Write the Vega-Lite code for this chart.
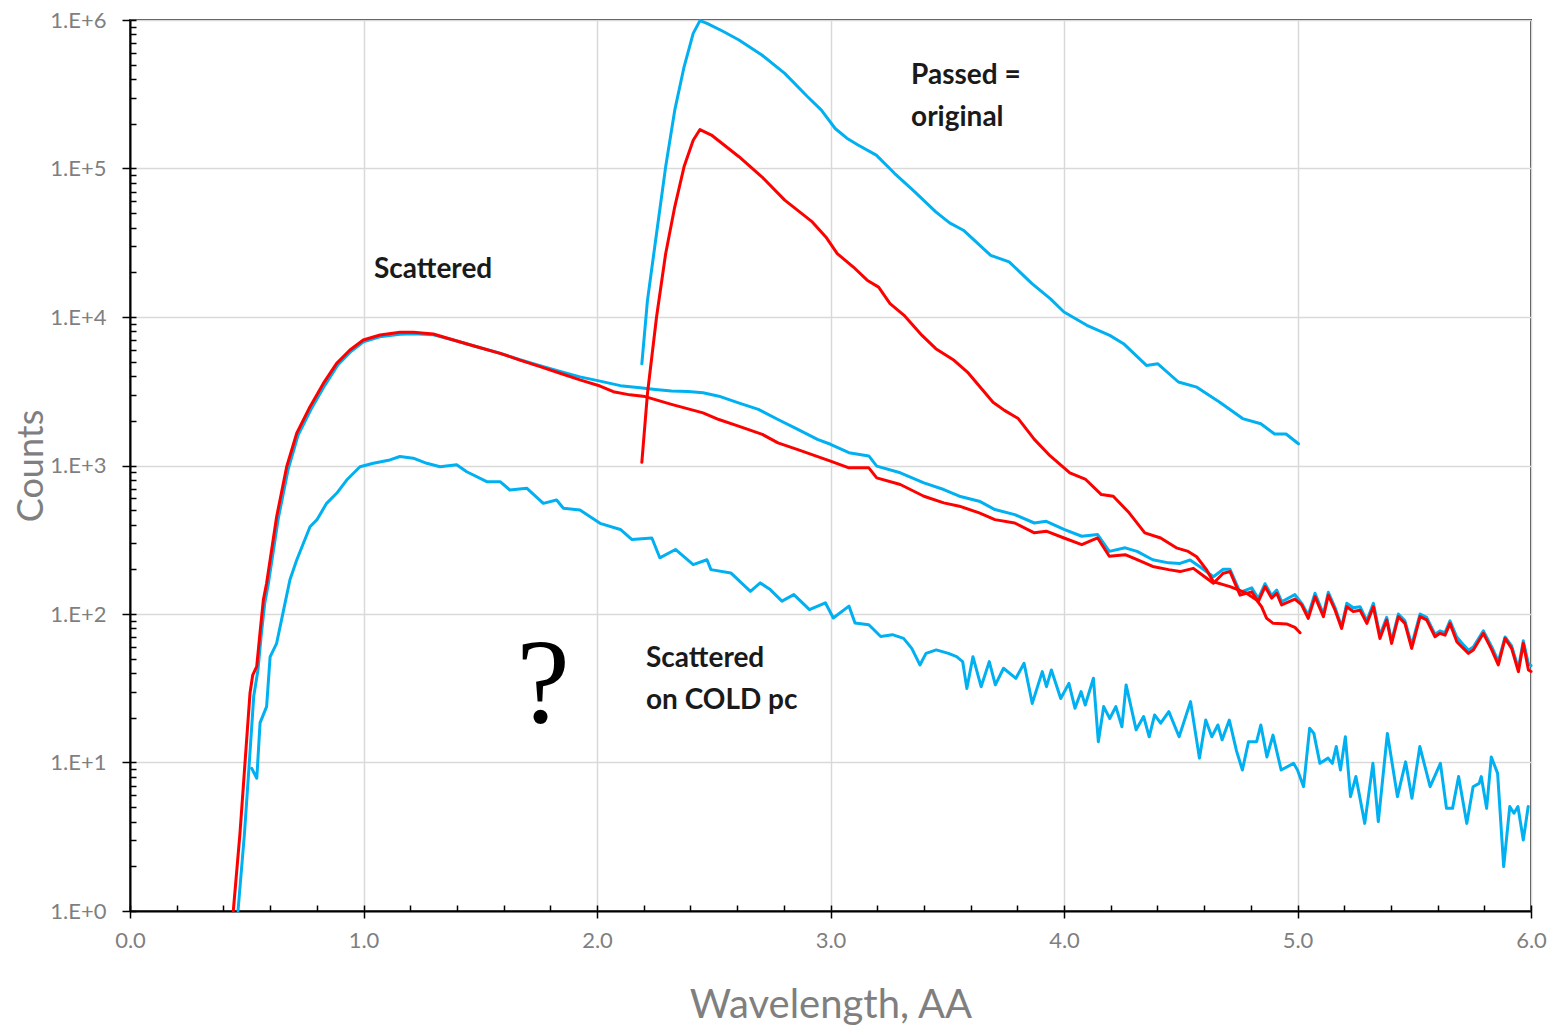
{
  "$schema": "https://vega.github.io/schema/vega-lite/v6.json",
  "width": 1401,
  "height": 891,
  "autosize": {"type": "none"},
  "padding": {"left": 130, "top": 20, "right": 23, "bottom": 116},
  "background": "white",
  "config": {
    "view": {"stroke": "#404040", "strokeWidth": 2},
    "line": {"strokeWidth": 3, "clip": true, "strokeJoin": "round", "strokeCap": "round"}
  },
  "datasets": {
    "coldBlue": [
      {"wavelength":0.521,"counts":9.14},{"wavelength":0.543,"counts":7.83},{"wavelength":0.557,"counts":18.5},{"wavelength":0.585,"counts":23.8},{"wavelength":0.6,"counts":51.5},{"wavelength":0.628,"counts":63.5},{"wavelength":0.657,"counts":105},{"wavelength":0.685,"counts":170},{"wavelength":0.714,"counts":231},{"wavelength":0.771,"counts":387},{"wavelength":0.8,"counts":430},{"wavelength":0.842,"counts":556},{"wavelength":0.885,"counts":650},{"wavelength":0.928,"counts":798},{"wavelength":0.985,"counts":981},{"wavelength":1.042,"counts":1035},{"wavelength":1.113,"counts":1090},{"wavelength":1.156,"counts":1150},{"wavelength":1.213,"counts":1120},{"wavelength":1.271,"counts":1035},{"wavelength":1.328,"counts":981},{"wavelength":1.399,"counts":1010},{"wavelength":1.442,"counts":908},{"wavelength":1.528,"counts":778},{"wavelength":1.585,"counts":778},{"wavelength":1.627,"counts":684},{"wavelength":1.699,"counts":703},{"wavelength":1.77,"counts":556},{"wavelength":1.827,"counts":586},{"wavelength":1.856,"counts":515},{"wavelength":1.927,"counts":501},{"wavelength":2.013,"counts":408},{"wavelength":2.1,"counts":371},{"wavelength":2.15,"counts":317},{"wavelength":2.235,"counts":325},{"wavelength":2.269,"counts":239},{"wavelength":2.336,"counts":272},{"wavelength":2.412,"counts":215},{"wavelength":2.471,"counts":232},{"wavelength":2.488,"counts":199},{"wavelength":2.573,"counts":189},{"wavelength":2.657,"counts":142},{"wavelength":2.699,"counts":162},{"wavelength":2.742,"counts":146},{"wavelength":2.792,"counts":122},{"wavelength":2.843,"counts":135},{"wavelength":2.91,"counts":107},{"wavelength":2.978,"counts":119},{"wavelength":3.012,"counts":94},{"wavelength":3.079,"counts":113},{"wavelength":3.105,"counts":86.9},{"wavelength":3.164,"counts":84.7},{"wavelength":3.215,"counts":70.6},{"wavelength":3.265,"counts":72.6},{"wavelength":3.313,"counts":68.5},{"wavelength":3.348,"counts":58.7},{"wavelength":3.383,"counts":45.4},{"wavelength":3.409,"counts":54.3},{"wavelength":3.453,"counts":57.3},{"wavelength":3.505,"counts":54.3},{"wavelength":3.54,"counts":51.6},{"wavelength":3.566,"counts":47.8},{"wavelength":3.584,"counts":31.5},{"wavelength":3.61,"counts":51.6},{"wavelength":3.645,"counts":32.4},{"wavelength":3.68,"counts":47.8},{"wavelength":3.706,"counts":33.3},{"wavelength":3.741,"counts":43.1},{"wavelength":3.794,"counts":36.9},{"wavelength":3.829,"counts":46.6},{"wavelength":3.864,"counts":25},{"wavelength":3.907,"counts":40.9},{"wavelength":3.925,"counts":32.4},{"wavelength":3.946,"counts":42},{"wavelength":3.986,"counts":27},{"wavelength":4.021,"counts":34.1},{"wavelength":4.047,"counts":23.2},{"wavelength":4.073,"counts":30},{"wavelength":4.091,"counts":24.4},{"wavelength":4.126,"counts":36.9},{"wavelength":4.147,"counts":13.8},{"wavelength":4.17,"counts":23.8},{"wavelength":4.196,"counts":19.8},{"wavelength":4.222,"counts":23.8},{"wavelength":4.248,"counts":17.4},{"wavelength":4.266,"counts":33.3},{"wavelength":4.309,"counts":16.6},{"wavelength":4.341,"counts":20.4},{"wavelength":4.365,"counts":14.9},{"wavelength":4.388,"counts":20.9},{"wavelength":4.414,"counts":18.4},{"wavelength":4.449,"counts":22},{"wavelength":4.493,"counts":14.9},{"wavelength":4.542,"counts":25.7},{"wavelength":4.58,"counts":10.7},{"wavelength":4.607,"counts":19.3},{"wavelength":4.633,"counts":14.9},{"wavelength":4.659,"counts":17.9},{"wavelength":4.677,"counts":14.2},{"wavelength":4.708,"counts":19.3},{"wavelength":4.738,"counts":12.1},{"wavelength":4.764,"counts":8.9},{"wavelength":4.79,"counts":13.8},{"wavelength":4.825,"counts":13.8},{"wavelength":4.843,"counts":17.9},{"wavelength":4.869,"counts":10.9},{"wavelength":4.895,"counts":15.3},{"wavelength":4.93,"counts":8.9},{"wavelength":4.983,"counts":9.87},{"wavelength":5.0,"counts":8.9},{"wavelength":5.026,"counts":6.87},{"wavelength":5.052,"counts":17},{"wavelength":5.07,"counts":15.7},{"wavelength":5.096,"counts":9.87},{"wavelength":5.131,"counts":10.7},{"wavelength":5.149,"counts":9.87},{"wavelength":5.166,"counts":12.8},{"wavelength":5.184,"counts":8.9},{"wavelength":5.205,"counts":14.9},{"wavelength":5.227,"counts":5.89},{"wavelength":5.25,"counts":8.04},{"wavelength":5.288,"counts":3.89},{"wavelength":5.323,"counts":9.87},{"wavelength":5.346,"counts":4.0},{"wavelength":5.385,"counts":15.7},{"wavelength":5.428,"counts":5.89},{"wavelength":5.463,"counts":10.1},{"wavelength":5.49,"counts":5.74},{"wavelength":5.524,"counts":12.8},{"wavelength":5.568,"counts":6.87},{"wavelength":5.612,"counts":9.87},{"wavelength":5.638,"counts":4.91},{"wavelength":5.664,"counts":4.91},{"wavelength":5.69,"counts":8.04},{"wavelength":5.725,"counts":3.89},{"wavelength":5.752,"counts":6.87},{"wavelength":5.778,"counts":7.24},{"wavelength":5.787,"counts":8.04},{"wavelength":5.81,"counts":4.91},{"wavelength":5.83,"counts":10.9},{"wavelength":5.857,"counts":8.45},{"wavelength":5.883,"counts":1.99},{"wavelength":5.909,"counts":5.05},{"wavelength":5.927,"counts":4.55},{"wavelength":5.944,"counts":5.05},{"wavelength":5.967,"counts":3.01},{"wavelength":5.988,"counts":5.05}
    ],
    "scatteredBlue": [
      {"wavelength":0.4625,"counts":1.0},{"wavelength":0.49,"counts":3.3},{"wavelength":0.51,"counts":9.5},{"wavelength":0.53,"counts":28},{"wavelength":0.548,"counts":42},{"wavelength":0.562,"counts":72},{"wavelength":0.577,"counts":118},{"wavelength":0.592,"counts":158},{"wavelength":0.635,"counts":440},{"wavelength":0.678,"counts":950},{"wavelength":0.72,"counts":1600},{"wavelength":0.777,"counts":2420},{"wavelength":0.835,"counts":3480},{"wavelength":0.89,"counts":4750},{"wavelength":0.946,"counts":5850},{"wavelength":1.0,"counts":6800},{"wavelength":1.07,"counts":7350},{"wavelength":1.156,"counts":7650},{"wavelength":1.213,"counts":7700},{"wavelength":1.299,"counts":7600},{"wavelength":1.385,"counts":7000},{"wavelength":1.485,"counts":6300},{"wavelength":1.585,"counts":5700},{"wavelength":1.67,"counts":5150},{"wavelength":1.756,"counts":4700},{"wavelength":1.842,"counts":4300},{"wavelength":1.927,"counts":3950},{"wavelength":2.013,"counts":3700},{"wavelength":2.1,"counts":3450},{"wavelength":2.184,"counts":3340},{"wavelength":2.25,"counts":3250},{"wavelength":2.319,"counts":3170},{"wavelength":2.39,"counts":3150},{"wavelength":2.454,"counts":3090},{"wavelength":2.522,"counts":2930},{"wavelength":2.606,"counts":2640},{"wavelength":2.691,"counts":2390},{"wavelength":2.775,"counts":2040},{"wavelength":2.86,"counts":1750},{"wavelength":2.944,"counts":1500},{"wavelength":3.0,"counts":1390},{"wavelength":3.079,"counts":1220},{"wavelength":3.164,"counts":1160},{"wavelength":3.198,"counts":990},{"wavelength":3.299,"counts":893},{"wavelength":3.4,"counts":764},{"wavelength":3.485,"counts":689},{"wavelength":3.552,"counts":621},{"wavelength":3.637,"counts":575},{"wavelength":3.704,"counts":505},{"wavelength":3.789,"counts":467},{"wavelength":3.873,"counts":410},{"wavelength":3.924,"counts":421},{"wavelength":4.0,"counts":371},{"wavelength":4.076,"counts":334},{"wavelength":4.144,"counts":343},{"wavelength":4.194,"counts":264},{"wavelength":4.262,"counts":279},{"wavelength":4.313,"counts":264},{"wavelength":4.38,"counts":232},{"wavelength":4.448,"counts":221},{"wavelength":4.497,"counts":219},{"wavelength":4.54,"counts":231},{"wavelength":4.582,"counts":208},{"wavelength":4.64,"counts":178},{"wavelength":4.682,"counts":200},{"wavelength":4.711,"counts":200},{"wavelength":4.754,"counts":140},{"wavelength":4.804,"counts":150},{"wavelength":4.832,"counts":127},{"wavelength":4.861,"counts":160},{"wavelength":4.889,"counts":133},{"wavelength":4.911,"counts":145},{"wavelength":4.932,"counts":121},{"wavelength":4.989,"counts":135},{"wavelength":5.018,"counts":118},{"wavelength":5.046,"counts":98},{"wavelength":5.075,"counts":138},{"wavelength":5.111,"counts":100},{"wavelength":5.132,"counts":140},{"wavelength":5.161,"counts":110},{"wavelength":5.189,"counts":82},{"wavelength":5.211,"counts":118},{"wavelength":5.239,"counts":110},{"wavelength":5.268,"counts":112},{"wavelength":5.297,"counts":90},{"wavelength":5.325,"counts":118},{"wavelength":5.353,"counts":72},{"wavelength":5.382,"counts":95},{"wavelength":5.403,"counts":66},{"wavelength":5.432,"counts":100},{"wavelength":5.46,"counts":90},{"wavelength":5.489,"counts":62},{"wavelength":5.525,"counts":100},{"wavelength":5.553,"counts":95},{"wavelength":5.589,"counts":73},{"wavelength":5.61,"counts":77},{"wavelength":5.632,"counts":75},{"wavelength":5.653,"counts":90},{"wavelength":5.682,"counts":70},{"wavelength":5.703,"counts":64},{"wavelength":5.732,"counts":57},{"wavelength":5.753,"counts":60},{"wavelength":5.796,"counts":77},{"wavelength":5.832,"counts":60},{"wavelength":5.86,"counts":48},{"wavelength":5.889,"counts":70},{"wavelength":5.917,"counts":61},{"wavelength":5.946,"counts":43},{"wavelength":5.967,"counts":66},{"wavelength":5.989,"counts":46},{"wavelength":6.0,"counts":45}
    ],
    "passedBlue": [
      {"wavelength":2.192,"counts":4840},{"wavelength":2.216,"counts":12900},{"wavelength":2.255,"counts":36500},{"wavelength":2.294,"counts":102600},{"wavelength":2.333,"counts":247000},{"wavelength":2.373,"counts":484000},{"wavelength":2.412,"counts":813000},{"wavelength":2.441,"counts":990000},{"wavelength":2.471,"counts":950000},{"wavelength":2.539,"counts":840000},{"wavelength":2.608,"counts":733000},{"wavelength":2.706,"counts":581000},{"wavelength":2.804,"counts":437000},{"wavelength":2.902,"counts":304000},{"wavelength":2.961,"counts":247000},{"wavelength":3.02,"counts":186000},{"wavelength":3.07,"counts":160000},{"wavelength":3.118,"counts":144000},{"wavelength":3.196,"counts":123000},{"wavelength":3.275,"counts":92500},{"wavelength":3.353,"counts":71400},{"wavelength":3.451,"counts":51000},{"wavelength":3.51,"counts":43000},{"wavelength":3.569,"counts":38400},{"wavelength":3.686,"counts":26000},{"wavelength":3.765,"counts":23500},{"wavelength":3.863,"counts":16800},{"wavelength":3.941,"counts":13300},{"wavelength":4.0,"counts":10800},{"wavelength":4.098,"counts":8790},{"wavelength":4.196,"counts":7520},{"wavelength":4.255,"counts":6610},{"wavelength":4.353,"counts":4720},{"wavelength":4.402,"counts":4840},{"wavelength":4.49,"counts":3650},{"wavelength":4.569,"counts":3370},{"wavelength":4.667,"counts":2670},{"wavelength":4.765,"counts":2070},{"wavelength":4.843,"counts":1910},{"wavelength":4.902,"counts":1630},{"wavelength":4.951,"counts":1630},{"wavelength":5.004,"counts":1400}
    ],
    "scatteredRed": [
      {"wavelength":0.4424,"counts":1.0},{"wavelength":0.471,"counts":3.35},{"wavelength":0.4925,"counts":9.93},{"wavelength":0.514,"counts":29.4},{"wavelength":0.5255,"counts":38.8},{"wavelength":0.5426,"counts":44.2},{"wavelength":0.5567,"counts":74.5},{"wavelength":0.571,"counts":124},{"wavelength":0.585,"counts":161},{"wavelength":0.628,"counts":452},{"wavelength":0.671,"counts":981},{"wavelength":0.714,"counts":1650},{"wavelength":0.771,"counts":2490},{"wavelength":0.828,"counts":3570},{"wavelength":0.885,"counts":4870},{"wavelength":0.942,"counts":6000},{"wavelength":0.999,"counts":7000},{"wavelength":1.071,"counts":7570},{"wavelength":1.156,"counts":7890},{"wavelength":1.213,"counts":7890},{"wavelength":1.299,"counts":7690},{"wavelength":1.385,"counts":7000},{"wavelength":1.485,"counts":6310},{"wavelength":1.585,"counts":5690},{"wavelength":1.67,"counts":5130},{"wavelength":1.756,"counts":4630},{"wavelength":1.842,"counts":4180},{"wavelength":1.927,"counts":3770},{"wavelength":2.013,"counts":3430},{"wavelength":2.07,"counts":3140},{"wavelength":2.141,"counts":2990},{"wavelength":2.206,"counts":2910},{"wavelength":2.319,"counts":2580},{"wavelength":2.454,"counts":2260},{"wavelength":2.522,"counts":2040},{"wavelength":2.606,"counts":1840},{"wavelength":2.708,"counts":1620},{"wavelength":2.775,"counts":1420},{"wavelength":2.86,"counts":1280},{"wavelength":3.0,"counts":1070},{"wavelength":3.079,"counts":964},{"wavelength":3.164,"counts":964},{"wavelength":3.198,"counts":826},{"wavelength":3.299,"counts":745},{"wavelength":3.4,"counts":621},{"wavelength":3.485,"counts":560},{"wavelength":3.552,"counts":532},{"wavelength":3.637,"counts":480},{"wavelength":3.704,"counts":432},{"wavelength":3.789,"counts":410},{"wavelength":3.873,"counts":352},{"wavelength":3.924,"counts":361},{"wavelength":4.0,"counts":325},{"wavelength":4.076,"counts":293},{"wavelength":4.144,"counts":325},{"wavelength":4.194,"counts":245},{"wavelength":4.262,"counts":251},{"wavelength":4.313,"counts":232},{"wavelength":4.38,"counts":209},{"wavelength":4.448,"counts":199},{"wavelength":4.497,"counts":193},{"wavelength":4.554,"counts":203},{"wavelength":4.582,"counts":188},{"wavelength":4.64,"counts":161},{"wavelength":4.682,"counts":188},{"wavelength":4.711,"counts":193},{"wavelength":4.754,"counts":134},{"wavelength":4.804,"counts":141},{"wavelength":4.832,"counts":121},{"wavelength":4.861,"counts":153},{"wavelength":4.889,"counts":128},{"wavelength":4.911,"counts":138},{"wavelength":4.932,"counts":115},{"wavelength":4.989,"counts":126},{"wavelength":5.018,"counts":115},{"wavelength":5.046,"counts":93.5},{"wavelength":5.075,"counts":131},{"wavelength":5.111,"counts":96},{"wavelength":5.132,"counts":134},{"wavelength":5.161,"counts":106},{"wavelength":5.189,"counts":80},{"wavelength":5.211,"counts":112},{"wavelength":5.239,"counts":104},{"wavelength":5.268,"counts":106},{"wavelength":5.297,"counts":86.5},{"wavelength":5.325,"counts":112},{"wavelength":5.353,"counts":68.5},{"wavelength":5.382,"counts":91.2},{"wavelength":5.403,"counts":63.4},{"wavelength":5.432,"counts":96},{"wavelength":5.46,"counts":86.5},{"wavelength":5.489,"counts":58.7},{"wavelength":5.525,"counts":96},{"wavelength":5.553,"counts":91.2},{"wavelength":5.589,"counts":70.3},{"wavelength":5.61,"counts":74.1},{"wavelength":5.632,"counts":72},{"wavelength":5.653,"counts":86.5},{"wavelength":5.682,"counts":65.2},{"wavelength":5.703,"counts":60.3},{"wavelength":5.732,"counts":54.3},{"wavelength":5.753,"counts":57.3},{"wavelength":5.796,"counts":74.1},{"wavelength":5.832,"counts":57.3},{"wavelength":5.86,"counts":45.4},{"wavelength":5.889,"counts":68.5},{"wavelength":5.917,"counts":58.7},{"wavelength":5.946,"counts":40.9},{"wavelength":5.967,"counts":63.4},{"wavelength":5.989,"counts":42},{"wavelength":6.0,"counts":41}
    ],
    "passedRed": [
      {"wavelength":2.192,"counts":1050},{"wavelength":2.216,"counts":3040},{"wavelength":2.255,"counts":10000},{"wavelength":2.294,"counts":26700},{"wavelength":2.333,"counts":55200},{"wavelength":2.373,"counts":103000},{"wavelength":2.412,"counts":155000},{"wavelength":2.441,"counts":183000},{"wavelength":2.49,"counts":168000},{"wavelength":2.608,"counts":120000},{"wavelength":2.706,"counts":87900},{"wavelength":2.804,"counts":61200},{"wavelength":2.922,"counts":43700},{"wavelength":2.98,"counts":34600},{"wavelength":3.029,"counts":26700},{"wavelength":3.098,"counts":21700},{"wavelength":3.157,"counts":17700},{"wavelength":3.206,"counts":15900},{"wavelength":3.255,"counts":12300},{"wavelength":3.314,"counts":10300},{"wavelength":3.392,"counts":7520},{"wavelength":3.451,"counts":6120},{"wavelength":3.529,"counts":5110},{"wavelength":3.59,"counts":4200},{"wavelength":3.647,"counts":3290},{"wavelength":3.696,"counts":2670},{"wavelength":3.745,"counts":2350},{"wavelength":3.804,"counts":2070},{"wavelength":3.873,"counts":1500},{"wavelength":3.941,"counts":1160},{"wavelength":4.025,"counts":893},{"wavelength":4.093,"counts":805},{"wavelength":4.16,"counts":637},{"wavelength":4.211,"counts":621},{"wavelength":4.279,"counts":480},{"wavelength":4.346,"counts":352},{"wavelength":4.414,"counts":325},{"wavelength":4.481,"counts":279},{"wavelength":4.532,"counts":264},{"wavelength":4.568,"counts":243},{"wavelength":4.611,"counts":198},{"wavelength":4.64,"counts":165},{"wavelength":4.711,"counts":153},{"wavelength":4.782,"counts":138},{"wavelength":4.825,"counts":124},{"wavelength":4.846,"counts":112},{"wavelength":4.868,"counts":93.5},{"wavelength":4.896,"counts":86.5},{"wavelength":4.953,"counts":85.7},{"wavelength":4.989,"counts":81.3},{"wavelength":5.011,"counts":74.8}
    ],
    "notes": [
      {"label":"Passed =\noriginal","wavelength":3.345,"counts":420000},
      {"label":"Scattered","wavelength":1.045,"counts":20700},
      {"label":"Scattered\non COLD pc","wavelength":2.21,"counts":49.8}
    ],
    "mark": [
      {"label":"?","wavelength":1.769,"counts":18.75}
    ]
  },
  "layer": [
    {
      "data": {"name": "coldBlue"},
      "mark": {"type": "line", "color": "#00B0F0"},
      "encoding": {
        "x": {"field": "wavelength", "type": "quantitative", "scale": {"domain": [0, 6], "nice": false, "zero": false},
          "axis": {"orient": "bottom", "values": [0,1,2,3,4,5,6], "format": ".1f", "grid": true, "gridColor": "#d9d9d9", "gridWidth": 1.5,
            "domainColor": "#000000", "domainWidth": 2, "tickColor": "#000000", "tickWidth": 1.5, "tickSize": 7,
            "labelFont": "Lato", "labelFontSize": 22, "labelColor": "#7f7f7f", "labelPadding": 12, "labelFlush": false, "labelOverlap": false,
            "title": "Wavelength, AA", "titleFont": "Lato", "titleFontSize": 40, "titleFontWeight": "normal", "titleColor": "#7f7f7f",
            "titleBaseline": "alphabetic", "titleY": 106}},
        "y": {"field": "counts", "type": "quantitative", "scale": {"type": "log", "domain": [1, 1000000], "nice": false},
          "axis": {"orient": "left", "values": [1,10,100,1000,10000,100000,1000000],
            "labelExpr": "'1.E+' + format(log(datum.value)/LN10, '.0f')",
            "grid": true, "gridColor": "#d9d9d9", "gridWidth": 1.5,
            "domainColor": "#000000", "domainWidth": 2, "tickColor": "#000000", "tickWidth": 1.5, "tickSize": 8,
            "labelFont": "Lato", "labelFontSize": 22, "labelColor": "#7f7f7f", "labelPadding": 16, "labelFlush": false, "labelOverlap": false,
            "title": "Counts", "titleFont": "Lato", "titleFontSize": 36, "titleFontWeight": "normal", "titleColor": "#7f7f7f",
            "titleAngle": 270, "titleBaseline": "alphabetic", "titleX": -88}}
      }
    },
    {
      "data": {"name": "scatteredBlue"},
      "mark": {"type": "line", "color": "#00B0F0"},
      "encoding": {
        "x": {"field": "wavelength", "type": "quantitative",
          "axis": {"orient": "bottom", "values": [0,0.2,0.4,0.6,0.8,1,1.2,1.4,1.6,1.8,2,2.2,2.4,2.6,2.8,3,3.2,3.4,3.6,3.8,4,4.2,4.4,4.6,4.8,5,5.2,5.4,5.6,5.8,6],
            "grid": false, "domain": false, "labels": false, "ticks": true, "tickSize": -6, "tickColor": "#000000", "tickWidth": 1.5, "title": null}},
        "y": {"field": "counts", "type": "quantitative",
          "axis": {"orient": "left", "values": [1,2,3,4,5,6,7,8,9,10,20,30,40,50,60,70,80,90,100,200,300,400,500,600,700,800,900,1000,2000,3000,4000,5000,6000,7000,8000,9000,10000,20000,30000,40000,50000,60000,70000,80000,90000,100000,200000,300000,400000,500000,600000,700000,800000,900000,1000000],
            "grid": false, "domain": false, "labels": false, "ticks": true, "tickSize": -6, "tickColor": "#000000", "tickWidth": 1.5, "title": null}}
      }
    },
    {
      "data": {"name": "passedBlue"},
      "mark": {"type": "line", "color": "#00B0F0"},
      "encoding": {
        "x": {"field": "wavelength", "type": "quantitative", "axis": null},
        "y": {"field": "counts", "type": "quantitative", "axis": null}
      }
    },
    {
      "data": {"name": "scatteredRed"},
      "mark": {"type": "line", "color": "#FF0000"},
      "encoding": {
        "x": {"field": "wavelength", "type": "quantitative", "axis": null},
        "y": {"field": "counts", "type": "quantitative", "axis": null}
      }
    },
    {
      "data": {"name": "passedRed"},
      "mark": {"type": "line", "color": "#FF0000"},
      "encoding": {
        "x": {"field": "wavelength", "type": "quantitative", "axis": null},
        "y": {"field": "counts", "type": "quantitative", "axis": null}
      }
    },
    {
      "data": {"name": "notes"},
      "mark": {"type": "text", "font": "Lato", "fontWeight": "bold", "fontSize": 28, "align": "left", "baseline": "middle", "lineBreak": "\n", "lineHeight": 42, "color": "#1a1a1a"},
      "encoding": {
        "x": {"field": "wavelength", "type": "quantitative", "axis": null},
        "y": {"field": "counts", "type": "quantitative", "axis": null},
        "text": {"field": "label"}
      }
    },
    {
      "data": {"name": "mark"},
      "mark": {"type": "text", "font": "Liberation Serif", "fontSize": 120, "align": "center", "baseline": "alphabetic", "color": "#000000"},
      "encoding": {
        "x": {"field": "wavelength", "type": "quantitative", "axis": null},
        "y": {"field": "counts", "type": "quantitative", "axis": null},
        "text": {"field": "label"}
      }
    }
  ],
  "resolve": {"axis": {"x": "independent", "y": "independent"}}
}
